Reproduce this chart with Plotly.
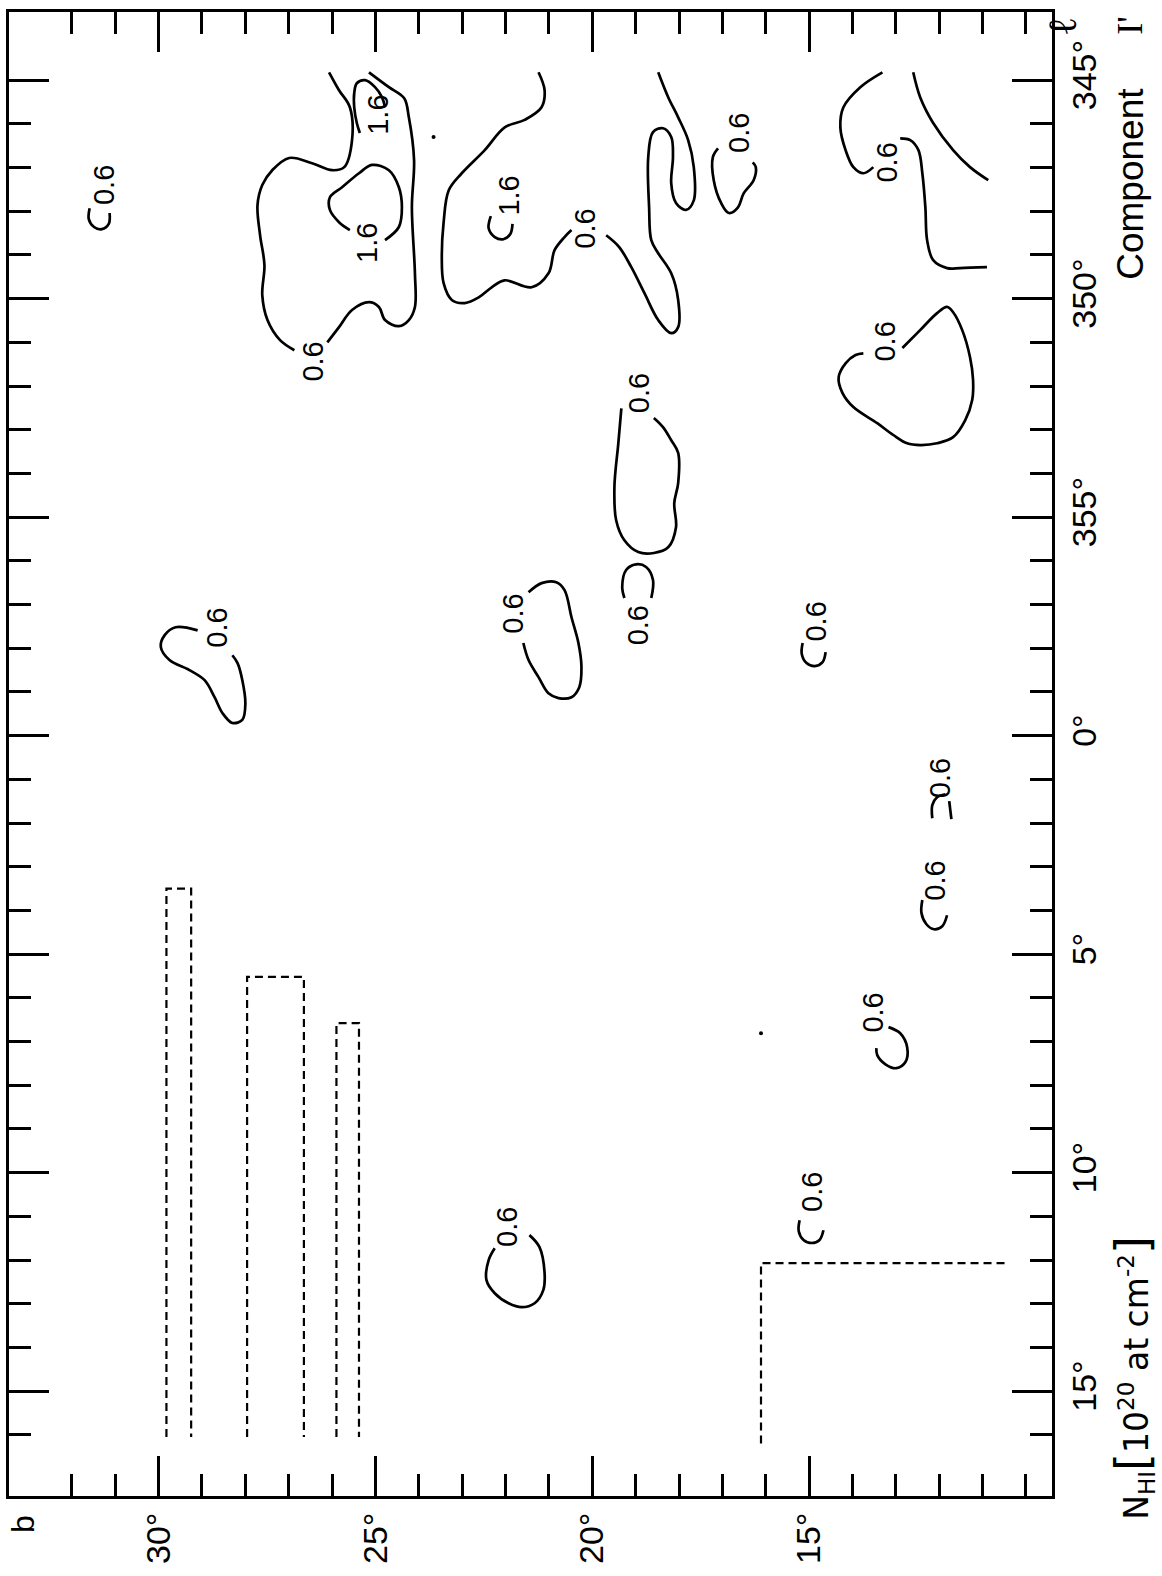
import plotly.graph_objects as go

# ---------------------------------------------------------------
# HI column density contours, component I' (b = galactic latitude,
# l = galactic longitude, both in degrees). Levels in 10^20 at cm^-2.
# ---------------------------------------------------------------

# large 0.6 contour, split by its label
A1_b = [26.07, 25.84, 25.59, 25.54, 25.72, 26.00, 26.46, 26.99, 27.38, 27.61, 27.72, 27.66, 27.56, 27.61, 27.49, 27.20, 26.87]
A1_l = [344.82, 345.23, 345.62, 346.37, 346.99, 347.06, 346.90, 346.78, 347.06, 347.40, 347.86, 348.55, 349.23, 349.92, 350.49, 350.95, 351.18]
A2_b = [26.11, 25.84, 25.54, 25.15, 24.92, 24.78, 24.46, 24.23, 24.09, 24.09, 24.16, 24.11, 24.23, 24.34, 24.69, 25.15]
A2_l = [351.00, 350.65, 350.26, 350.08, 350.19, 350.49, 350.63, 350.49, 350.19, 349.42, 347.91, 346.83, 345.85, 345.41, 345.16, 344.82]

# 1.6 contours inside it
P_b = [24.78, 24.85, 25.01, 25.24, 25.43, 25.49, 25.49, 25.43, 25.36]
P_l = [345.62, 345.39, 345.16, 345.00, 345.07, 345.30, 345.62, 345.98, 346.21]
Q_b = [24.78, 24.46, 24.39, 24.46, 24.69, 25.08, 25.38, 25.77, 26.05, 26.05, 25.84, 25.59]
Q_l = [348.66, 348.36, 347.91, 347.45, 347.06, 346.94, 347.13, 347.45, 347.68, 347.97, 348.25, 348.43]

# 0.6 contour around the C1.6 peak
B1_b = [21.24, 21.10, 21.17, 21.56, 22.02, 22.48, 23.01, 23.31, 23.43, 23.47, 23.43, 23.24, 22.94, 22.62, 22.32, 22.02, 21.40, 21.01, 20.87, 20.64, 20.48]
B1_l = [344.82, 345.23, 345.62, 345.91, 346.08, 346.60, 347.13, 347.52, 348.27, 349.05, 349.64, 350.03, 350.10, 349.97, 349.74, 349.58, 349.74, 349.42, 348.89, 348.59, 348.43]
B2_b = [19.68, 19.38, 19.10, 18.80, 18.48, 18.18, 18.02, 18.02, 18.18, 18.48, 18.64, 18.69, 18.71, 18.60, 18.37, 18.18, 18.14, 18.18, 18.07, 17.84, 17.66, 17.66, 17.79, 18.02, 18.25, 18.48]
B2_l = [348.55, 348.82, 349.28, 349.87, 350.49, 350.79, 350.65, 350.03, 349.42, 348.96, 348.66, 347.91, 346.76, 346.19, 346.10, 346.30, 346.76, 347.36, 347.81, 347.97, 347.75, 346.99, 346.37, 345.85, 345.39, 344.82]

C_b = [17.10, 17.22, 17.20, 17.03, 16.85, 16.64, 16.51, 16.28, 16.23, 16.30]
C_l = [346.56, 346.76, 347.29, 347.81, 348.04, 347.91, 347.59, 347.29, 346.99, 346.88]

D1_b = [13.31, 13.82, 14.21, 14.28, 14.16, 13.98, 13.75, 13.52]
D1_l = [344.82, 345.16, 345.62, 346.08, 346.60, 346.99, 347.13, 346.99]
D2_b = [12.90, 12.67, 12.48, 12.39, 12.32, 12.28, 12.14, 11.82, 11.52, 10.90]
D2_l = [346.33, 346.37, 346.60, 347.13, 347.91, 348.66, 349.12, 349.30, 349.30, 349.28]

E_b = [12.60, 12.44, 12.14, 11.68, 11.29, 10.87]
E_l = [344.82, 345.39, 345.98, 346.60, 346.99, 347.29]

F_b = [12.85, 12.44, 12.05, 11.82, 11.68, 11.47, 11.29, 11.22, 11.24, 11.40, 11.68, 12.05, 12.44, 12.74, 13.06, 13.43, 13.98, 14.23, 14.32, 14.16, 13.93, 13.75]
F_l = [351.13, 350.72, 350.33, 350.19, 350.31, 350.72, 351.34, 351.86, 352.32, 352.78, 353.17, 353.31, 353.35, 353.31, 353.12, 352.85, 352.48, 352.16, 351.80, 351.48, 351.29, 351.25]

G_b = [19.33, 19.40, 19.49, 19.45, 19.26, 18.94, 18.58, 18.25, 18.07, 18.11, 18.02, 18.02, 18.18, 18.37, 18.58]
G_l = [352.51, 353.31, 354.31, 355.07, 355.53, 355.80, 355.82, 355.69, 355.23, 354.68, 354.22, 353.53, 353.24, 352.94, 352.73]

H_b = [18.64, 18.60, 18.76, 18.99, 19.22, 19.31, 19.26]
H_l = [356.85, 356.44, 356.14, 356.08, 356.21, 356.60, 356.85]

I_b = [29.10, 29.61, 29.86, 29.95, 29.75, 29.29, 28.94, 28.71, 28.53, 28.30, 28.07, 28.00, 28.07, 28.18, 28.30]
I_l = [357.59, 357.52, 357.70, 357.97, 358.27, 358.50, 358.73, 359.12, 359.48, 359.71, 359.64, 359.26, 358.73, 358.34, 358.16]

J_b = [21.47, 21.17, 20.83, 20.64, 20.48, 20.32, 20.25, 20.30, 20.48, 20.78, 21.01, 21.24, 21.47, 21.59]
J_l = [356.72, 356.51, 356.49, 356.67, 357.29, 357.88, 358.43, 358.89, 359.12, 359.14, 359.03, 358.66, 358.27, 357.88]

K_b = [31.59, 31.61, 31.49, 31.31, 31.15, 31.13]
K_l = [347.93, 348.18, 348.36, 348.41, 348.29, 348.04]

M_b = [22.34, 22.39, 22.25, 22.05, 21.89, 21.84]
M_l = [348.11, 348.39, 348.59, 348.64, 348.52, 348.29]

N_b = [15.15, 15.17, 15.06, 14.87, 14.69, 14.62]
N_l = [357.88, 358.13, 358.34, 358.41, 358.32, 358.09]

R1_b = [12.16, 12.16, 12.05, 11.86]
R1_l = [1.89, 1.59, 1.41, 1.34]
R2_b = [11.77, 11.72]
R2_l = [1.50, 1.91]

S_b = [12.39, 12.41, 12.30, 12.12, 11.93, 11.82]
S_l = [3.76, 4.06, 4.31, 4.43, 4.36, 4.11]

T_b = [13.17, 12.90, 12.74, 12.78, 12.99, 13.24, 13.43, 13.45]
T_l = [6.67, 6.81, 7.13, 7.47, 7.61, 7.52, 7.31, 7.15]

U_b = [22.25, 22.39, 22.44, 22.25, 21.93, 21.63, 21.33, 21.13, 21.10, 21.22, 21.45]
U_l = [11.73, 12.00, 12.46, 12.76, 12.99, 13.08, 12.99, 12.69, 12.30, 11.70, 11.43]

V_b = [15.22, 15.24, 15.13, 14.94, 14.76, 14.67]
V_l = [11.09, 11.34, 11.54, 11.61, 11.54, 11.32]

# isolated specks
dot_b = [23.66, 16.11]
dot_l = [346.30, 6.81]

# contour level labels
label_b = [26.45, 24.95, 25.20, 21.91, 20.16, 16.62, 13.20, 13.24, 18.92, 18.94,
           28.64, 21.82, 31.26, 14.83, 11.98, 12.09, 13.52, 21.95, 14.92]
label_l = [351.45, 345.80, 348.73, 347.63, 348.39, 346.21, 346.88, 350.97, 352.16, 357.47,
           357.54, 357.20, 347.40, 357.40, 0.97, 3.31, 6.33, 11.25, 10.45]
label_txt = ["0.6", "1.6", "1.6", "1.6", "0.6", "0.6", "0.6", "0.6", "0.6", "0.6",
             "0.6", "0.6", "0.6", "0.6", "0.6", "0.6", "0.6", "0.6", "0.6"]

# dashed outlines of the surveyed strips
W1_b = [29.82, 29.82, 29.25, 29.25]
W1_l = [16.05, 3.50, 3.50, 16.05]
W2_b = [27.96, 27.96, 26.65, 26.65]
W2_l = [16.05, 5.52, 5.52, 16.05]
W3_b = [25.90, 25.90, 25.38, 25.38]
W3_l = [16.05, 6.58, 6.58, 16.05]
W4_b = [16.11, 16.11, 10.48]
W4_l = [16.20, 12.07, 12.07]

# axis ticks
b_major = [30, 25, 20, 15, 10]
b_major_txt = ["30°", "25°", "20°", "15°", ""]
l_major = [345, 350, 355, 0, 5, 10, 15]
l_major_txt = ["345°", "350°", "355°", "0°", "5°", "10°", "15°"]


def wrap(l):
    """Longitude on a continuous axis: 345..360 -> -15..0."""
    return l - 360 if l > 180 else l


def lon(seq):
    return [wrap(v) for v in seq]


solid = [(A1_b, A1_l), (A2_b, A2_l), (P_b, P_l), (Q_b, Q_l), (B1_b, B1_l), (B2_b, B2_l),
         (C_b, C_l), (D1_b, D1_l), (D2_b, D2_l), (E_b, E_l), (F_b, F_l), (G_b, G_l),
         (H_b, H_l), (I_b, I_l), (J_b, J_l), (K_b, K_l), (M_b, M_l), (N_b, N_l),
         (R1_b, R1_l), (R2_b, R2_l), (S_b, S_l), (T_b, T_l), (U_b, U_l), (V_b, V_l)]
dashed = [(W1_b, W1_l), (W2_b, W2_l), (W3_b, W3_l), (W4_b, W4_l)]

fig = go.Figure()
for bb, ll in solid:
    fig.add_trace(go.Scatter(x=bb, y=lon(ll), mode="lines",
                             line=dict(color="black", width=2.7, shape="spline", smoothing=1.0),
                             hoverinfo="skip", showlegend=False))
for bb, ll in dashed:
    fig.add_trace(go.Scatter(x=bb, y=lon(ll), mode="lines",
                             line=dict(color="black", width=2.2, dash="8px,5px"),
                             hoverinfo="skip", showlegend=False))
fig.add_trace(go.Scatter(x=dot_b, y=lon(dot_l), mode="markers",
                         marker=dict(color="black", size=4), hoverinfo="skip", showlegend=False))

font_main = "Liberation Sans, Arial, sans-serif"
for bb, ll, tt in zip(label_b, label_l, label_txt):
    fig.add_annotation(x=bb, y=wrap(ll), xref="x", yref="y", text=tt, showarrow=False,
                       textangle=-90, font=dict(family=font_main, size=29, color="black"))

# plot area in pixels
W, H = 1162, 1576
ML, MR, MT, MB = 6, 110, 12, 80
pw, ph = W - ML - MR, H - MT - MB


def px(xp, yp):
    return (xp - ML) / pw, (H - MB - yp) / ph


for text, (xp, yp), size, fam in [
    ("b", (20, 1524), 32, font_main),
    ("ℓ", (1062, 26), 40, "DejaVu Serif, serif"),
    ("Component", (1130, 184), 37, font_main),
    ("I'", (1130, 26), 36, "Liberation Serif, serif"),
    ("N<sub>HI</sub><span style='font-size:46px'>[</span>10<sup>20</sup> at cm<sup>-2</sup><span style='font-size:46px'>]</span>",
     (1132, 1378), 33, "DejaVu Sans, sans-serif"),
]:
    ax_, ay_ = px(xp, yp)
    fig.add_annotation(x=ax_, y=ay_, xref="paper", yref="paper", text=text, showarrow=False,
                       textangle=-90, xanchor="center", yanchor="middle",
                       font=dict(family=fam, size=size, color="black"))

fig.update_layout(
    width=W, height=H,
    margin=dict(l=ML, r=MR, t=MT, b=MB, pad=0),
    paper_bgcolor="white", plot_bgcolor="white",
    xaxis=dict(range=[33.45, 9.40], tickmode="array", tickvals=b_major, ticktext=b_major_txt,
               ticks="inside", ticklen=40, tickwidth=3, tickcolor="black",
               minor=dict(tickmode="array", tickvals=list(range(10, 33)), ticks="inside",
                          ticklen=22, tickwidth=3, tickcolor="black", showgrid=False),
               showline=True, linewidth=3, linecolor="black", mirror="ticks",
               showgrid=False, zeroline=False, tickangle=-90,
               tickfont=dict(family=font_main, size=34, color="black")),
    yaxis=dict(range=[17.40, -16.56], side="right", tickmode="array",
               tickvals=[wrap(v) for v in l_major], ticktext=l_major_txt,
               ticks="inside", ticklen=40, tickwidth=3, tickcolor="black",
               minor=dict(tickmode="array", tickvals=list(range(-15, 17)), ticks="inside",
                          ticklen=22, tickwidth=3, tickcolor="black", showgrid=False),
               showline=True, linewidth=3, linecolor="black", mirror="ticks",
               showgrid=False, zeroline=False, tickangle=-90,
               tickfont=dict(family=font_main, size=34, color="black")),
)

fig.write_html("out.html")
